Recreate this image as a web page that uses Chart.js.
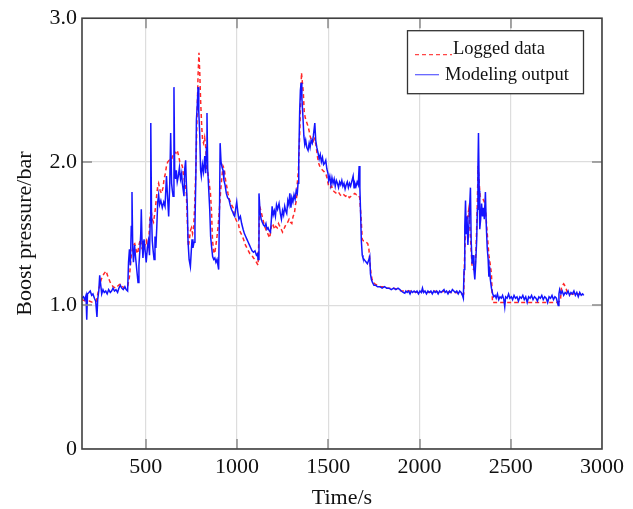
<!DOCTYPE html>
<html>
<head>
<meta charset="utf-8">
<script src="https://cdn.jsdelivr.net/npm/chart.js@4"></script>
<style>
  html, body { margin: 0; padding: 0; background: #fff; }
  #wrap { width: 633px; height: 509px; }
</style>
</head>
<body>
<div id="wrap"><canvas id="boostChart" width="633" height="509"></canvas></div>
<script>
// Ejes
var xTicks = [500, 1000, 1500, 2000, 2500, 3000];
var yTicks = [0, 1, 2, 3];

// Salida del modelo (s, bar)
var modelTime = [150,158,165,172,176,180,188,195,203,210,218,225,232,236,242,247,252,258,265,272,280,288,296,305,312,320,328,336,345,352,360,368,376,385,392,400,405,410,415,420,424,428,432,438,444,450,457,462,467,472,475,479,484,490,496,502,508,514,520,524,527,531,535,540,545,550,555,560,565,570,575,582,590,598,605,613,619,625,631,636,641,645,649,654,658,663,667,672,678,684,690,696,700,705,709,713,718,722,727,731,737,744,749,753,758,764,769,774,777,782,786,790,795,800,804,810,816,823,828,832,835,839,844,850,855,860,866,872,878,884,890,895,899,904,907,912,918,923,928,934,941,948,955,962,969,976,982,987,993,998,1004,1010,1018,1025,1033,1040,1047,1054,1061,1068,1075,1082,1090,1098,1106,1112,1115,1120,1126,1132,1138,1145,1152,1158,1164,1170,1176,1183,1188,1192,1198,1204,1210,1216,1222,1230,1237,1243,1249,1255,1261,1266,1272,1278,1284,1289,1295,1300,1306,1312,1318,1324,1330,1334,1338,1343,1347,1351,1355,1361,1366,1371,1376,1382,1389,1395,1400,1406,1412,1418,1426,1431,1437,1444,1450,1456,1462,1468,1474,1480,1486,1492,1498,1502,1508,1514,1520,1526,1532,1538,1544,1550,1556,1562,1568,1574,1580,1586,1592,1598,1604,1610,1616,1622,1628,1636,1641,1646,1652,1658,1664,1669,1673,1677,1681,1686,1690,1696,1702,1708,1714,1720,1727,1731,1736,1742,1750,1760,1770,1783,1795,1808,1820,1832,1845,1858,1870,1882,1892,1900,1910,1919,1925,1932,1940,1948,1955,1962,1970,1978,1986,1994,2002,2010,2016,2022,2030,2038,2046,2054,2062,2070,2078,2086,2094,2102,2110,2118,2126,2134,2140,2148,2156,2164,2172,2180,2188,2196,2204,2212,2220,2228,2235,2240,2244,2248,2252,2256,2260,2265,2270,2275,2279,2283,2288,2293,2298,2303,2308,2313,2317,2320,2323,2327,2330,2335,2340,2345,2350,2355,2361,2366,2371,2376,2380,2384,2388,2394,2400,2407,2414,2420,2427,2434,2441,2448,2455,2462,2467,2472,2480,2488,2495,2503,2510,2518,2526,2534,2542,2550,2558,2566,2574,2582,2590,2598,2606,2614,2622,2630,2638,2646,2654,2662,2670,2678,2686,2694,2702,2710,2718,2726,2734,2742,2750,2756,2760,2764,2768,2775,2782,2790,2798,2806,2814,2822,2830,2838,2846,2854,2862,2870,2878,2886,2894,2900];
var modelBoost = [1.05,1.06,1.04,1.07,0.90,1.08,1.09,1.10,1.07,1.08,1.05,1.03,0.92,1.04,1.10,1.21,1.15,1.08,1.11,1.09,1.10,1.08,1.11,1.09,1.10,1.12,1.10,1.11,1.09,1.12,1.14,1.12,1.11,1.13,1.11,1.10,1.30,1.39,1.28,1.55,1.79,1.40,1.30,1.42,1.33,1.25,1.16,1.28,1.38,1.50,1.67,1.45,1.33,1.46,1.38,1.30,1.40,1.45,1.35,1.60,2.27,1.65,1.45,1.38,1.32,1.48,1.40,1.55,1.72,1.77,1.70,1.73,1.68,1.72,1.69,1.90,1.75,1.62,1.85,2.20,1.85,1.80,1.76,2.52,1.95,1.88,1.94,1.86,1.90,1.96,1.88,1.92,1.85,1.80,1.76,1.95,2.01,1.85,1.70,1.45,1.32,1.27,1.38,1.46,1.40,1.44,1.55,1.90,2.29,2.40,2.52,2.35,2.20,1.94,1.90,1.98,1.93,2.04,1.92,2.10,2.34,1.95,1.82,1.67,1.48,1.41,1.34,1.32,1.33,1.30,1.32,1.28,1.25,1.70,2.13,2.00,1.96,1.94,1.87,1.84,1.78,1.75,1.74,1.70,1.67,1.65,1.63,1.62,1.68,1.72,1.65,1.60,1.62,1.57,1.53,1.50,1.48,1.46,1.44,1.42,1.40,1.38,1.37,1.38,1.35,1.36,1.32,1.78,1.65,1.60,1.58,1.56,1.55,1.57,1.53,1.54,1.52,1.51,1.60,1.69,1.63,1.66,1.62,1.70,1.67,1.71,1.64,1.60,1.66,1.63,1.69,1.66,1.64,1.73,1.70,1.78,1.68,1.75,1.72,1.77,1.74,1.80,1.78,1.85,2.01,2.35,2.50,2.55,2.45,2.31,2.18,2.12,2.15,2.10,2.08,2.13,2.10,2.15,2.13,2.18,2.27,2.15,2.10,2.06,2.02,2.05,2.00,2.03,1.98,1.99,2.01,1.95,1.92,1.87,1.90,1.84,1.89,1.85,1.88,1.83,1.87,1.85,1.82,1.86,1.84,1.87,1.83,1.85,1.81,1.84,1.86,1.82,1.85,1.83,1.86,1.90,1.82,1.85,1.83,1.86,1.84,1.97,1.82,1.64,1.45,1.35,1.33,1.32,1.31,1.30,1.29,1.31,1.34,1.22,1.18,1.16,1.14,1.14,1.13,1.13,1.12,1.13,1.12,1.12,1.11,1.12,1.11,1.12,1.11,1.10,1.09,1.085,1.10,1.09,1.10,1.08,1.10,1.09,1.10,1.09,1.10,1.08,1.10,1.09,1.12,1.09,1.10,1.08,1.10,1.09,1.10,1.08,1.10,1.09,1.10,1.08,1.10,1.09,1.10,1.11,1.09,1.10,1.08,1.10,1.09,1.11,1.10,1.09,1.10,1.08,1.10,1.09,1.07,1.05,1.25,1.55,1.73,1.50,1.62,1.42,1.55,1.70,1.82,1.45,1.29,1.35,1.25,1.18,1.30,1.45,1.67,1.95,2.20,1.80,1.53,1.60,1.71,1.62,1.68,1.60,1.79,1.55,1.40,1.32,1.20,1.27,1.18,1.12,1.085,1.06,1.07,1.05,1.08,1.04,1.06,1.05,1.07,1.04,0.99,1.06,1.05,1.08,1.05,1.06,1.04,1.07,1.05,1.06,1.03,1.06,1.05,1.07,1.04,1.06,1.02,1.06,1.05,1.07,1.04,1.06,1.05,1.03,1.06,1.05,1.07,1.04,1.06,1.05,1.02,1.06,1.05,1.07,1.04,1.06,1.05,1.02,1.00,1.08,1.11,1.08,1.10,1.07,1.09,1.08,1.10,1.07,1.09,1.08,1.10,1.07,1.09,1.06,1.09,1.07,1.08,1.07];

// Datos registrados (s, bar)
var loggedTime = [150,170,190,210,228,240,255,270,282,292,305,320,335,350,362,372,385,400,410,420,430,439,448,455,462,470,478,487,495,503,510,517,522,528,535,542,550,558,565,570,578,586,594,600,607,613,620,628,636,644,651,658,665,672,680,686,693,700,707,714,722,727,733,738,744,750,756,762,768,775,780,786,791,796,800,806,811,816,822,828,834,840,847,854,860,865,871,877,884,890,896,902,910,917,923,930,936,943,950,957,964,970,978,986,993,1000,1007,1014,1022,1030,1038,1046,1054,1062,1070,1080,1090,1097,1106,1115,1120,1124,1130,1138,1145,1152,1160,1168,1175,1179,1185,1192,1198,1205,1212,1220,1227,1234,1242,1249,1256,1263,1270,1278,1285,1292,1300,1307,1314,1320,1325,1330,1336,1342,1347,1353,1358,1363,1368,1373,1380,1388,1394,1400,1408,1416,1424,1432,1440,1447,1453,1462,1470,1478,1486,1494,1502,1510,1518,1526,1534,1545,1555,1565,1575,1585,1595,1605,1615,1625,1635,1645,1655,1665,1672,1680,1686,1692,1700,1708,1716,1722,1728,1734,1740,1745,1755,1770,1785,1800,1820,1840,1860,1880,1900,1930,1960,1990,2020,2050,2080,2110,2140,2170,2200,2235,2242,2248,2254,2262,2270,2276,2282,2288,2296,2304,2310,2316,2321,2327,2332,2340,2348,2355,2362,2368,2374,2380,2387,2394,2400,2450,2500,2550,2600,2650,2700,2750,2772,2778,2790,2800,2810,2830,2860,2900];
var loggedBoost = [1.04,1.03,1.03,1.02,1.03,1.10,1.18,1.22,1.24,1.20,1.16,1.13,1.12,1.14,1.15,1.13,1.12,1.13,1.20,1.35,1.42,1.43,1.38,1.36,1.42,1.46,1.40,1.38,1.42,1.45,1.40,1.48,1.60,1.67,1.60,1.58,1.65,1.75,1.83,1.85,1.80,1.78,1.82,1.88,1.92,1.97,2.00,2.01,1.98,2.03,2.05,2.07,2.06,2.08,2.04,2.00,1.99,1.97,1.90,1.85,1.78,1.60,1.41,1.45,1.52,1.54,1.50,1.55,1.70,2.00,2.29,2.60,2.76,2.60,2.43,2.25,2.15,2.13,2.17,2.10,1.95,1.92,1.85,1.78,1.65,1.46,1.38,1.36,1.42,1.48,1.55,1.65,1.80,1.90,1.97,1.95,1.88,1.83,1.78,1.74,1.72,1.70,1.68,1.62,1.60,1.58,1.57,1.52,1.50,1.48,1.45,1.42,1.40,1.38,1.36,1.35,1.33,1.32,1.30,1.28,1.50,1.69,1.66,1.62,1.58,1.55,1.52,1.50,1.48,1.47,1.53,1.57,1.56,1.53,1.55,1.54,1.57,1.55,1.53,1.51,1.53,1.55,1.57,1.58,1.60,1.58,1.57,1.62,1.64,1.70,1.73,1.85,1.94,2.15,2.36,2.62,2.55,2.48,2.35,2.31,2.28,2.25,2.22,2.18,2.15,2.14,2.16,2.12,2.04,1.99,1.97,1.95,1.94,1.93,1.92,1.88,1.83,1.82,1.83,1.80,1.79,1.78,1.79,1.77,1.76,1.77,1.76,1.77,1.75,1.76,1.77,1.78,1.77,1.77,1.75,1.60,1.46,1.45,1.45,1.44,1.43,1.40,1.30,1.22,1.18,1.16,1.15,1.14,1.13,1.13,1.12,1.12,1.12,1.11,1.10,1.10,1.10,1.09,1.10,1.09,1.10,1.09,1.10,1.09,1.09,1.08,1.08,1.39,1.55,1.60,1.67,1.55,1.40,1.27,1.25,1.25,1.40,1.67,1.97,1.85,1.76,1.75,1.74,1.72,1.66,1.55,1.45,1.35,1.29,1.22,1.02,1.02,1.02,1.02,1.02,1.02,1.02,1.02,1.03,1.13,1.15,1.13,1.09,1.08,1.08,1.08];

var serif = '"Liberation Serif", "Times New Roman", serif';

function toPoints(ts, vs) {
  return ts.map(function (t, i) { return { x: t, y: vs[i] }; });
}

// Marco, marcas interiores y leyenda con recuadro
var framePlugin = {
  id: 'frame',
  afterDatasetsDraw: function (chart) {
    var ctx = chart.ctx, a = chart.chartArea, x = chart.scales.x, y = chart.scales.y;
    ctx.save();
    ctx.strokeStyle = '#8a8a8a';
    ctx.lineWidth = 1.5;
    ctx.beginPath();
    xTicks.slice(0, -1).forEach(function (v) {
      var px = Math.round(x.getPixelForValue(v));
      ctx.moveTo(px, a.bottom); ctx.lineTo(px, a.bottom - 10);
      ctx.moveTo(px, a.top); ctx.lineTo(px, a.top + 10);
    });
    [1, 2].forEach(function (v) {
      var py = Math.round(y.getPixelForValue(v));
      ctx.moveTo(a.left, py); ctx.lineTo(a.left + 10, py);
      ctx.moveTo(a.right, py); ctx.lineTo(a.right - 10, py);
    });
    ctx.stroke();
    ctx.strokeStyle = '#404040';
    ctx.lineWidth = 1.6;
    ctx.strokeRect(a.left, a.top, a.right - a.left, a.bottom - a.top);
    ctx.restore();
  },
  afterDraw: function (chart) {
    var ctx = chart.ctx, a = chart.chartArea;
    var bx = a.right - 195, by = a.top + 12, bw = 176, bh = 63;
    ctx.save();
    ctx.fillStyle = '#fff';
    ctx.fillRect(bx, by, bw, bh);
    ctx.strokeStyle = '#333';
    ctx.lineWidth = 1.3;
    ctx.strokeRect(bx + 0.5, by + 0.5, bw, bh);

    ctx.lineWidth = 1.2;
    ctx.strokeStyle = 'rgb(255,70,70)';
    ctx.setLineDash([4, 3]);
    ctx.beginPath();
    ctx.moveTo(bx + 8, by + 24.5); ctx.lineTo(bx + 45, by + 24.5);
    ctx.stroke();
    ctx.setLineDash([]);
    ctx.strokeStyle = 'rgb(90,90,255)';
    ctx.beginPath();
    ctx.moveTo(bx + 8, by + 44.5); ctx.lineTo(bx + 32, by + 44.5);
    ctx.stroke();

    ctx.fillStyle = '#111';
    ctx.font = '18.5px ' + serif;
    ctx.textBaseline = 'alphabetic';
    ctx.fillText('Logged data', bx + 46, by + 23.5);
    ctx.fillText('Modeling output', bx + 38, by + 49.5);
    ctx.restore();
  }
};

var ctx = document.getElementById('boostChart').getContext('2d');

var boostChart = new Chart(ctx, {
  type: 'line',
  data: {
    datasets: [{
      label: 'Modeling output',
      data: toPoints(modelTime, modelBoost),
      borderColor: 'rgb(20,20,255)',
      borderWidth: 1.5,
      pointRadius: 0,
      tension: 0,
      order: 0
    }, {
      label: 'Logged data',
      data: toPoints(loggedTime, loggedBoost),
      borderColor: 'rgb(255,40,40)',
      borderWidth: 1.5,
      borderDash: [4, 3],
      pointRadius: 0,
      tension: 0,
      order: 1
    }]
  },
  options: {
    responsive: false,
    animation: false,
    layout: { padding: { top: 18, right: 31, left: 0, bottom: 0 } },
    plugins: {
      legend: { display: false },
      tooltip: { enabled: false }
    },
    scales: {
      x: {
        type: 'linear',
        min: 150,
        max: 3000,
        afterBuildTicks: function (axis) {
          axis.ticks = xTicks.map(function (v) { return { value: v }; });
        },
        afterFit: function (axis) { axis.height = 60; },
        ticks: {
          padding: 5,
          color: '#111',
          font: { family: serif, size: 22 },
          maxRotation: 0,
          callback: function (v) { return String(v); }
        },
        grid: { color: '#dddddd', lineWidth: 1.2, drawTicks: false },
        border: { display: false },
        title: {
          display: true,
          text: 'Time/s',
          color: '#111',
          font: { family: serif, size: 22, lineHeight: 1 },
          padding: { top: 0, bottom: 0 }
        }
      },
      y: {
        min: 0,
        max: 3,
        afterBuildTicks: function (axis) {
          axis.ticks = yTicks.map(function (v) { return { value: v }; });
        },
        afterFit: function (axis) { axis.width = 82; },
        ticks: {
          padding: 5,
          color: '#111',
          font: { family: serif, size: 22 },
          callback: function (v) { return v === 0 ? '0' : v.toFixed(1); }
        },
        grid: { color: '#dddddd', lineWidth: 1.2, drawTicks: false },
        border: { display: false },
        title: {
          display: true,
          text: 'Boost pressure/bar',
          color: '#111',
          font: { family: serif, size: 22, lineHeight: 1 },
          padding: { top: 14, bottom: 0 }
        }
      }
    }
  },
  plugins: [framePlugin]
});
</script>
</body>
</html>
